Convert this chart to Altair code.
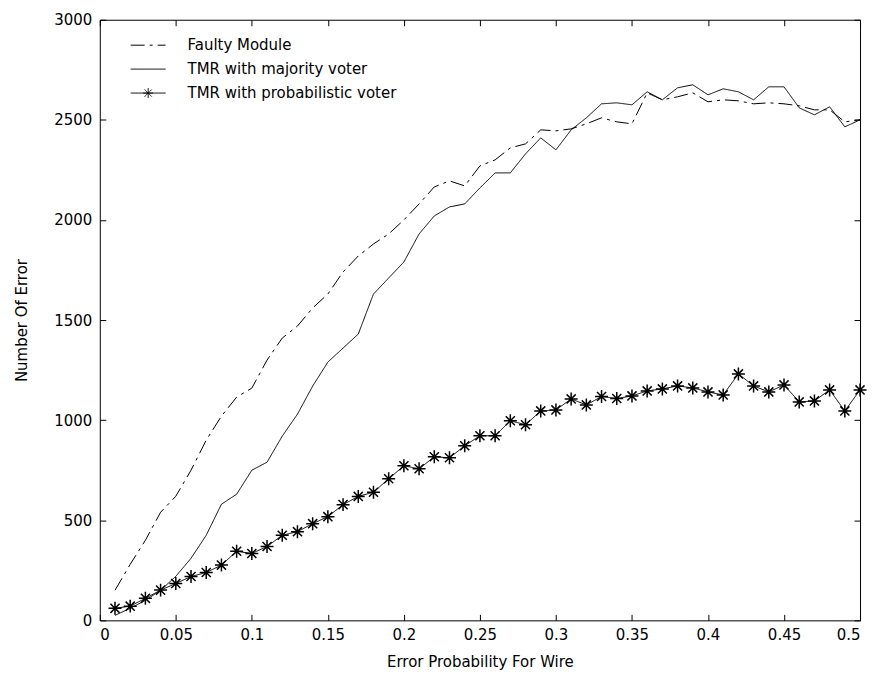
import altair as alt
import pandas as pd

# ---------------- data ----------------
p_values = [round(0.01 * i, 2) for i in range(1, 51)]

faulty_module = [150, 280, 400, 540, 620, 750, 900, 1020, 1115, 1160,
                 1300, 1410, 1470, 1560, 1630, 1740, 1820, 1880, 1930, 2000,
                 2080, 2165, 2195, 2170, 2270, 2300, 2360, 2380, 2450, 2445,
                 2455, 2480, 2510, 2490, 2480, 2635, 2600, 2615, 2635, 2590,
                 2600, 2595, 2580, 2585, 2580, 2570, 2550, 2550, 2490, 2500]

tmr_majority = [25, 60, 100, 150, 220, 310, 425, 580, 630, 750,
                790, 920, 1030, 1170, 1290, 1360, 1430, 1630, 1710, 1790,
                1930, 2020, 2065, 2080, 2160, 2235, 2235, 2330, 2410, 2350,
                2450, 2510, 2580, 2585, 2575, 2640, 2600, 2660, 2675, 2625,
                2655, 2640, 2600, 2665, 2665, 2560, 2525, 2565, 2465, 2500]

tmr_probabilistic = [60, 71, 110, 151, 184, 219, 239, 276, 345, 334,
                     369, 425, 443, 483, 518, 578, 619, 640, 707, 772,
                     757, 817, 812, 872, 922, 922, 997, 977, 1046, 1051,
                     1106, 1076, 1118, 1108, 1121, 1146, 1156, 1171, 1161, 1141,
                     1126, 1231, 1171, 1141, 1176, 1091, 1096, 1151, 1046, 1151]

series_names = ["Faulty Module", "TMR with majority voter", "TMR with probabilistic voter"]

x_tick_values = [0, 0.05, 0.1, 0.15, 0.2, 0.25, 0.3, 0.35, 0.4, 0.45, 0.5]
y_tick_values = [0, 500, 1000, 1500, 2000, 2500, 3000]

df = pd.DataFrame({
    "p": p_values * 3,
    "errors": faulty_module + tmr_majority + tmr_probabilistic,
    "series": [series_names[0]] * 50 + [series_names[1]] * 50 + [series_names[2]] * 50,
})
df_prob = df[df["series"] == series_names[2]]

# ---------------- styling ----------------
W, H = 762, 602
FONT = "DejaVu Sans"
FS = 15

xscale = alt.Scale(domain=[0, 0.5], nice=False, zero=False)
yscale = alt.Scale(domain=[0, 3000], nice=False)

STAR = "M0,-1V1M-1,0H1M-0.7,-0.7L0.7,0.7M-0.7,0.7L0.7,-0.7"
LEG_LINE = "M-5,0H5"
LEG_STAR = "M-5,0H5M0,-1.4V1.4M-1.4,0H1.4M-1,-1L1,1M-1,1L1,-1"

dash_scale = alt.Scale(domain=series_names, range=[[14, 5, 3, 5], [1, 0], [1, 0]])
shape_scale = alt.Scale(domain=series_names, range=[LEG_LINE, LEG_LINE, LEG_STAR])

legend = alt.Legend(
    title=None, orient="none", legendX=41, legendY=18,
    labelFont=FONT, labelFontSize=FS, labelColor="black", labelLimit=0,
    symbolSize=49, symbolStrokeColor="black", symbolStrokeWidth=1,
    symbolOpacity=1, labelOffset=32, rowPadding=8, padding=0,
)

tick_axis_common = dict(labels=False, ticks=True, tickSize=6, tickColor="black",
                        tickWidth=1, domain=False, grid=False, title=None)

lines = alt.Chart(df).mark_line(color="black", strokeWidth=1).encode(
    x=alt.X("p:Q", scale=xscale, axis=alt.Axis(
        values=x_tick_values, format=".2~f", title="Error Probability For Wire",
        ticks=False, domain=False, grid=False, labelPadding=7, titlePadding=12,
        labelFont=FONT, labelFontSize=FS, labelColor="black",
        titleFont=FONT, titleFontSize=FS, titleFontWeight="normal", titleColor="black")),
    y=alt.Y("errors:Q", scale=yscale, axis=alt.Axis(
        values=y_tick_values, format="d", title="Number Of Error",
        ticks=False, domain=False, grid=False, labelPadding=8, titlePadding=24,
        labelFont=FONT, labelFontSize=FS, labelColor="black",
        titleFont=FONT, titleFontSize=FS, titleFontWeight="normal", titleColor="black")),
    strokeDash=alt.StrokeDash("series:N", scale=dash_scale, legend=legend),
    detail="series:N",
)

stars = alt.Chart(df_prob).mark_point(
    shape=STAR, size=169, color="black", strokeWidth=1.5, filled=False, opacity=1
).encode(
    x=alt.X("p:Q", scale=xscale, axis=alt.Axis(orient="top", offset=-H, values=x_tick_values, **tick_axis_common)),
    y=alt.Y("errors:Q", scale=yscale, axis=alt.Axis(orient="right", offset=-W, values=y_tick_values, **tick_axis_common)),
)

legend_layer = alt.Chart(df).mark_point(opacity=0, filled=False, color="black").encode(
    x=alt.X("p:Q", scale=xscale, axis=alt.Axis(orient="bottom", offset=-H, values=x_tick_values, **tick_axis_common)),
    y=alt.Y("errors:Q", scale=yscale, axis=alt.Axis(orient="left", offset=-W, values=y_tick_values, **tick_axis_common)),
    shape=alt.Shape("series:N", scale=shape_scale, legend=legend),
)

chart = alt.layer(lines, stars, legend_layer).resolve_axis(
    x="independent", y="independent"
).properties(
    width=W, height=H, background="white",
    padding={"left": 6, "top": 4, "right": 0, "bottom": 0},
).configure_view(
    stroke="black", strokeWidth=1
)

chart.save("out.html", embed_options={"renderer": "svg", "actions": False})
